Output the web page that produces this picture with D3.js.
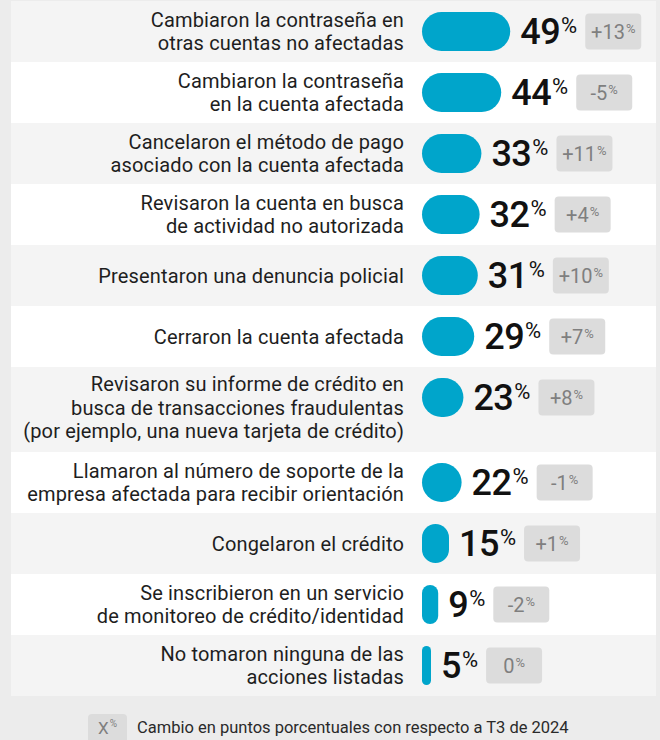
<!DOCTYPE html>
<html>
<head>
<meta charset="utf-8">
<script src="https://cdn.jsdelivr.net/npm/d3@7"></script>
<style>
  html, body { margin: 0; padding: 0; background: #ececec; }
  svg { display: block; }
  text { font-family: Roboto, "Noto Sans", sans-serif; }
</style>
</head>
<body>
<svg id="chart" width="660" height="740"></svg>
<script>
const categories = [
  ["Cambiaron la contraseña en", "otras cuentas no afectadas"],
  ["Cambiaron la contraseña", "en la cuenta afectada"],
  ["Cancelaron el método de pago", "asociado con la cuenta afectada"],
  ["Revisaron la cuenta en busca", "de actividad no autorizada"],
  ["Presentaron una denuncia policial"],
  ["Cerraron la cuenta afectada"],
  ["Revisaron su informe de crédito en", "busca de transacciones fraudulentas", "(por ejemplo, una nueva tarjeta de crédito)"],
  ["Llamaron al número de soporte de la", "empresa afectada para recibir orientación"],
  ["Congelaron el crédito"],
  ["Se inscribieron en un servicio", "de monitoreo de crédito/identidad"],
  ["No tomaron ninguna de las", "acciones listadas"]
];
const values = [49, 44, 33, 32, 31, 29, 23, 22, 15, 9, 5];
const changes = ["+13", "-5", "+11", "+4", "+10", "+7", "+8", "-1", "+1", "-2", "0"];
const legendBadge = "X";
const legendText = "Cambio en puntos porcentuales con respecto a T3 de 2024";

const svg = d3.select("#chart");
const panelX = 11, panelW = 645, top0 = 1;
const lineH = 23.5;
const rowHeights = categories.map(c => Math.max(61, Math.round(lineH * c.length + 14)));
const rowTops = [];
rowHeights.reduce((acc, h, i) => { rowTops[i] = acc; return acc + h; }, top0);

const barX0 = 422, barH = 39;
const x = d3.scaleLinear().domain([0, 100]).range([0, 180]);

const rows = svg.selectAll("g.row").data(values.map((v, i) => ({v, i, cat: categories[i], ch: changes[i]})))
  .join("g").attr("class", "row")
  .attr("transform", d => `translate(0,${rowTops[d.i]})`);

rows.append("rect")
  .attr("x", panelX).attr("y", 0)
  .attr("width", panelW).attr("height", d => rowHeights[d.i])
  .attr("fill", d => d.i % 2 === 0 ? "#f4f4f4" : "#ffffff");

// category labels
rows.each(function(d) {
  const g = d3.select(this);
  const h = rowHeights[d.i];
  const n = d.cat.length;
  const cy = h / 2 + (n === 3 ? -2 : 0);
  const t = g.append("text")
    .attr("text-anchor", "end")
    .attr("font-size", 20)
    .attr("letter-spacing", 0.15)
    .attr("fill", "#1e1e1e");
  d.cat.forEach((line, k) => {
    t.append("tspan")
      .attr("x", 404)
      .attr("y", cy + (k - (n - 1) / 2) * lineH + 7)
      .text(line);
  });
});

// bars
rows.append("rect")
  .attr("x", barX0)
  .attr("y", 11)
  .attr("width", d => x(d.v))
  .attr("height", barH)
  .attr("rx", d => Math.min(x(d.v) / 2, barH / 2))
  .attr("fill", "#00a5cb");

// value labels and badges
rows.each(function(d) {
  const g = d3.select(this);
  const cy = 11 + barH / 2;
  const lx = barX0 + x(d.v) + 10;
  const num = g.append("text")
    .attr("x", lx).attr("y", cy + 12.5)
    .attr("font-size", 36).attr("font-weight", 500)
    .attr("fill", "#111")
    .attr("letter-spacing", -0.5)
    .text(d.v);
  const nw = num.node().getComputedTextLength();
  const pct = g.append("text")
    .attr("x", lx + nw + 1).attr("y", cy + 1)
    .attr("font-size", 22).attr("font-weight", 400)
    .attr("fill", "#111")
    .text("%");
  const pw = pct.node().getComputedTextLength();
  const bx = lx + nw + 1 + pw + 8;
  g.append("rect")
    .attr("x", bx).attr("y", cy - 18)
    .attr("width", 56).attr("height", 36)
    .attr("rx", 4)
    .attr("fill", "#dcdcdc");
  const bt = g.append("text")
    .attr("y", cy + 7.5)
    .attr("font-size", 20)
    .attr("fill", "#7f7f7f")
    .text(d.ch);
  const bw = bt.node().getComputedTextLength();
  const ps = g.append("text")
    .attr("y", cy + 1.5)
    .attr("font-size", 13)
    .attr("fill", "#7f7f7f")
    .text("%");
  const sw = ps.node().getComputedTextLength();
  const total = bw + 1 + sw;
  const sx = bx + 28 - total / 2;
  bt.attr("x", sx);
  ps.attr("x", sx + bw + 1);
});

// legend
const ly = 714;
svg.append("rect")
  .attr("x", 88).attr("y", ly)
  .attr("width", 39).attr("height", 36)
  .attr("rx", 4).attr("fill", "#dcdcdc");
const lt = svg.append("text")
  .attr("y", ly + 20).attr("font-size", 17).attr("fill", "#7f7f7f").text(legendBadge);
const ltw = lt.node().getComputedTextLength();
const lp = svg.append("text")
  .attr("y", ly + 13).attr("font-size", 10).attr("fill", "#7f7f7f").text("%");
const lpw = lp.node().getComputedTextLength();
const lsx = 88 + 19.5 - (ltw + 1 + lpw) / 2;
lt.attr("x", lsx);
lp.attr("x", lsx + ltw + 1);
svg.append("text")
  .attr("x", 137).attr("y", ly + 19)
  .attr("font-size", 16.5).attr("fill", "#2a2a2a")
  .text(legendText);
</script>
</body>
</html>
